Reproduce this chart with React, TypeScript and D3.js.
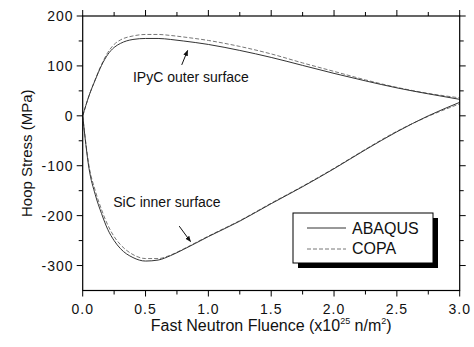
import React from "react";
import * as d3 from "d3";

const fluence = [0, 0.05, 0.1, 0.15, 0.2, 0.25, 0.3, 0.4, 0.5, 0.6, 0.7, 0.8, 1.0, 1.25, 1.5, 1.75, 2.0, 2.25, 2.5, 2.75, 3.0];
const ipycAbaqus = [0, 40, 72, 101, 123, 137, 145, 153, 155, 155, 153, 150, 143, 131, 117, 101, 85, 70, 56, 44, 33];
const ipycCopa = [0, 40, 73, 103, 127, 143, 152, 160, 163, 163, 161, 158, 151, 139, 124, 106, 89, 72, 57, 45, 36];
const sicAbaqus = [0, -105, -158, -196, -228, -250, -266, -284, -291, -289, -280, -268, -242, -211, -176, -142, -106, -68, -32, 0, 27];
const sicCopa = [0, -100, -150, -188, -219, -242, -258, -278, -286, -286, -279, -267, -241, -210, -175, -141, -105, -67, -31, -1, 24];

const xMajor = [0, 0.5, 1.0, 1.5, 2.0, 2.5, 3.0];
const xMinor = [0.25, 0.75, 1.25, 1.75, 2.25, 2.75];
const yMajor = [-300, -200, -100, 0, 100, 200];
const yMinor = [-250, -150, -50, 50, 150];

const seriesNames = ["ABAQUS", "COPA"];

const W = 474;
const H = 347;
const M = { left: 82.7, right: 459.7, top: 16, bottom: 290.5 };
const FONT = "Arial, 'Liberation Sans', Helvetica, sans-serif";

export default function App() {
  const x = d3.scaleLinear().domain([0, 3]).range([M.left, M.right]);
  const y = d3.scaleLinear().domain([-350, 200]).range([M.bottom, M.top]);
  const line = (vals: number[]) =>
    d3
      .line<number>()
      .x((_, i) => x(fluence[i]))
      .y((d) => y(d))
      .curve(d3.curveMonotoneX)(vals) as string;

  const solid = { stroke: "#333", strokeWidth: 1, fill: "none" };
  const dashed = { stroke: "#777", strokeWidth: 1, fill: "none", strokeDasharray: "4,2" };

  const ipycArrow = { x1: 0.788, y1: 102, x2: 0.835, y2: 131 };
  const sicArrow = { x1: 0.768, y1: -221, x2: 0.858, y2: -252 };

  const legend = { x: 293, y: 213, w: 140, h: 50 };

  return (
    <svg
      width={W}
      height={H}
      style={{ position: "absolute", left: 0, top: 0, background: "#fff" }}
      fontFamily={FONT}
    >
      <defs>
        <marker id="ah" viewBox="0 0 10 10" refX="9" refY="5" markerWidth="6" markerHeight="6" orient="auto">
          <path d="M0,1 L10,5 L0,9 z" fill="#111" />
        </marker>
        <clipPath id="clip">
          <rect x={M.left} y={M.top} width={M.right - M.left} height={M.bottom - M.top} />
        </clipPath>
      </defs>
      <rect x={0} y={0} width={W} height={H} fill="#fff" />

      <g clipPath="url(#clip)">
        <path d={line(ipycCopa)} {...dashed} />
        <path d={line(sicCopa)} {...dashed} />
        <path d={line(ipycAbaqus)} {...solid} />
        <path d={line(sicAbaqus)} {...solid} />
      </g>

      {/* frame */}
      <rect x={M.left} y={M.top} width={M.right - M.left} height={M.bottom - M.top} fill="none" stroke="#000" strokeWidth={1.2} />

      {/* x ticks */}
      {xMajor.map((t) => (
        <g key={"xm" + t}>
          <line x1={x(t)} x2={x(t)} y1={M.bottom} y2={M.bottom + 6} stroke="#000" />
          <line x1={x(t)} x2={x(t)} y1={M.top} y2={M.top - 6} stroke="#000" />
          <text x={x(t)} y={313.5} textAnchor="middle" fontSize={14} letterSpacing={1} fill="#111">
            {t.toFixed(1)}
          </text>
        </g>
      ))}
      {xMinor.map((t) => (
        <g key={"xn" + t}>
          <line x1={x(t)} x2={x(t)} y1={M.bottom} y2={M.bottom + 4} stroke="#000" />
          <line x1={x(t)} x2={x(t)} y1={M.top} y2={M.top - 4} stroke="#000" />
        </g>
      ))}
      {/* y ticks */}
      {yMajor.map((t) => (
        <g key={"ym" + t}>
          <line x1={M.left} x2={M.left - 6} y1={y(t)} y2={y(t)} stroke="#000" />
          <line x1={M.right} x2={M.right + 6} y1={y(t)} y2={y(t)} stroke="#000" />
          <text x={73.5} y={y(t)} dy="0.36em" textAnchor="end" fontSize={14} letterSpacing={1} fill="#111">
            {t}
          </text>
        </g>
      ))}
      {yMinor.map((t) => (
        <g key={"yn" + t}>
          <line x1={M.left} x2={M.left - 4} y1={y(t)} y2={y(t)} stroke="#000" />
          <line x1={M.right} x2={M.right + 4} y1={y(t)} y2={y(t)} stroke="#000" />
        </g>
      ))}

      {/* axis titles */}
      <text x={(M.left + M.right) / 2} y={331} textAnchor="middle" fontSize={16} fill="#111">
        Fast Neutron Fluence (x10
        <tspan fontSize={9} dy={-7}>25</tspan>
        <tspan dy={7}> n/m</tspan>
        <tspan fontSize={9} dy={-7}>2</tspan>
        <tspan dy={7}>)</tspan>
      </text>
      <text
        transform={`translate(31.5,${(M.top + M.bottom) / 2}) rotate(-90)`}
        textAnchor="middle"
        fontSize={15}
        fill="#111"
      >
        Hoop Stress (MPa)
      </text>

      {/* annotations */}
      <text x={x(0.4)} y={y(68.6)} fontSize={14} fill="#111">IPyC outer surface</text>
      <text x={x(0.243)} y={y(-183)} fontSize={14} fill="#111">SiC inner surface</text>
      <line
        x1={x(ipycArrow.x1)} y1={y(ipycArrow.y1)} x2={x(ipycArrow.x2)} y2={y(ipycArrow.y2)}
        stroke="#111" strokeWidth={1} markerEnd="url(#ah)"
      />
      <line
        x1={x(sicArrow.x1)} y1={y(sicArrow.y1)} x2={x(sicArrow.x2)} y2={y(sicArrow.y2)}
        stroke="#111" strokeWidth={1} markerEnd="url(#ah)"
      />

      {/* legend */}
      <rect x={legend.x + 5} y={legend.y + 5} width={legend.w} height={legend.h} fill="#000" />
      <rect x={legend.x} y={legend.y} width={legend.w} height={legend.h} fill="#fff" stroke="#000" strokeWidth={1} />
      <line x1={legend.x + 14} x2={legend.x + 53} y1={legend.y + 15} y2={legend.y + 15} {...solid} />
      <text x={legend.x + 59} y={legend.y + 21} fontSize={16} fill="#111">{seriesNames[0]}</text>
      <line x1={legend.x + 14} x2={legend.x + 53} y1={legend.y + 36} y2={legend.y + 36} {...dashed} />
      <text x={legend.x + 59} y={legend.y + 41} fontSize={16} fill="#111">{seriesNames[1]}</text>
    </svg>
  );
}
